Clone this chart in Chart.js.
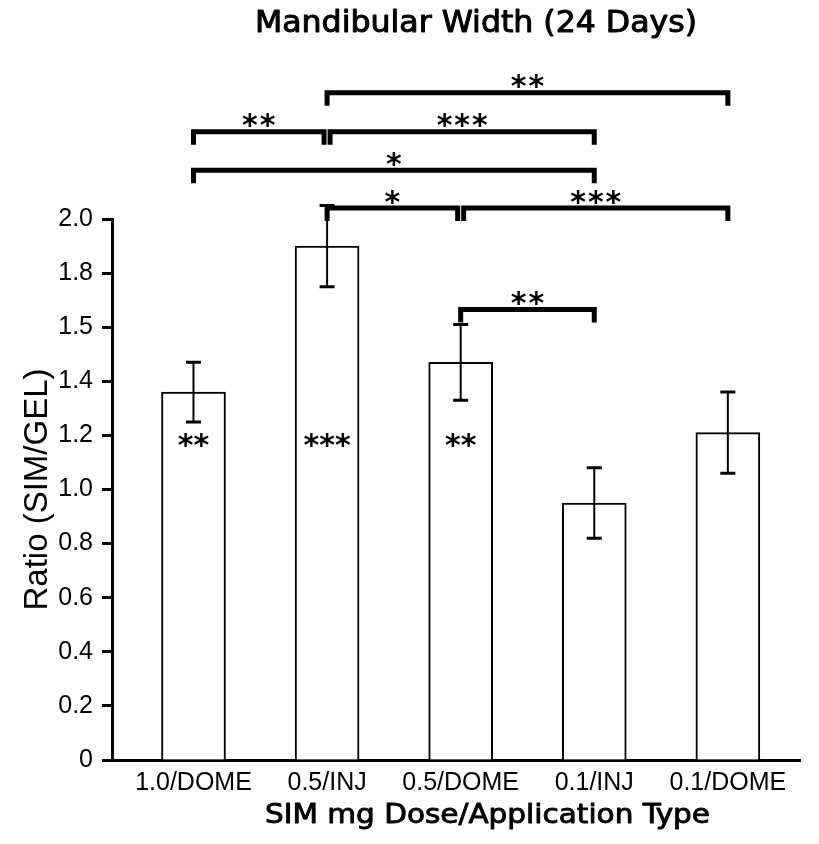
<!DOCTYPE html>
<html><head><meta charset="utf-8">
<script src="https://cdn.jsdelivr.net/npm/chart.js@4.4.1/dist/chart.umd.min.js"></script>
<style>html,body{margin:0;padding:0;background:#fff}canvas{display:block}</style>
</head><body>
<canvas id="c" width="819" height="844"></canvas>
<script>
const chartTitle = 'Mandibular Width (24 Days)';
const xAxisTitle = 'SIM mg Dose/Application Type';
const yAxisTitle = 'Ratio (SIM/GEL)';
const categories = ['1.0/DOME', '0.5/INJ', '0.5/DOME', '0.1/INJ', '0.1/DOME'];
const ratioMeans = [1.36, 1.90, 1.47, 0.95, 1.21];
const ratioErrors = [0.11, 0.15, 0.14, 0.13, 0.15];
const barStars = ['**', '***', '**', '', ''];
const yTickValues = [0, 0.2, 0.4, 0.6, 0.8, 1.0, 1.2, 1.4, 1.6, 1.8, 2.0];
const yTickLabels = ['0', '0.2', '0.4', '0.6', '0.8', '1.0', '1.2', '1.4', '1.5', '1.8', '2.0'];
// significance brackets: from / to category index, level (ratio units), label
const bracketFrom  = [1, 0, 1, 0, 1, 2, 2];
const bracketTo    = [4, 1, 3, 3, 2, 4, 3];
const bracketLevel = [2.467, 2.323, 2.323, 2.180, 2.041, 2.041, 1.665];
const bracketLabel = ['**', '**', '***', '*', '*', '***', '**'];
const barStarLevel = 1.18;

const SANS = '"Liberation Sans", Arial, sans-serif';
const NARROW = '"Liberation Sans Narrow", "DejaVu Sans Condensed", "Liberation Sans", sans-serif';
const STARFONT = 'bold 30px "DejaVu Sans", sans-serif';

function drawStretched(ctx, text, font, cx, baseline, targetW, weightStroke) {
  ctx.save();
  ctx.font = font; ctx.textAlign = 'center'; ctx.textBaseline = 'alphabetic';
  ctx.fillStyle = '#000'; ctx.strokeStyle = '#000';
  const w = ctx.measureText(text).width;
  ctx.translate(cx, baseline); ctx.scale(targetW / w, 1);
  ctx.fillText(text, 0, 0);
  ctx.lineWidth = weightStroke; ctx.lineJoin = 'round';
  ctx.strokeText(text, 0, 0);
  ctx.restore();
}

const annot = {
  id: 'annot',
  afterDatasetsDraw(chart) {
    const ctx = chart.ctx, x = chart.scales.x, y = chart.scales.y;
    ctx.save();
    ctx.strokeStyle = '#000'; ctx.fillStyle = '#000';
    // error bars
    ratioMeans.forEach((m, i) => {
      const px = x.getPixelForValue(i);
      const top = y.getPixelForValue(m + ratioErrors[i]);
      const bot = y.getPixelForValue(m - ratioErrors[i]);
      ctx.lineWidth = 2;
      ctx.beginPath(); ctx.moveTo(px, top); ctx.lineTo(px, bot); ctx.stroke();
      ctx.lineWidth = 3;
      ctx.beginPath();
      ctx.moveTo(px - 7.5, top); ctx.lineTo(px + 7.5, top);
      ctx.moveTo(px - 7.5, bot); ctx.lineTo(px + 7.5, bot);
      ctx.stroke();
    });
    // stars inside bars
    ctx.font = STARFONT; ctx.textAlign = 'center'; ctx.textBaseline = 'middle';
    ctx.letterSpacing = '0px';
    barStars.forEach((s, i) => {
      if (!s) return;
      ctx.fillText(s, x.getPixelForValue(i), y.getPixelForValue(barStarLevel) + 6);
    });
    // brackets
    ctx.lineWidth = 5; ctx.lineJoin = 'miter'; ctx.lineCap = 'butt';
    ctx.letterSpacing = '2px';
    bracketFrom.forEach((f, k) => {
      const t = bracketTo[k], lv = bracketLevel[k];
      let sh1 = 0, sh2 = 0;
      bracketFrom.forEach((f2, j) => {
        if (j === k || bracketLevel[j] !== lv) return;
        if (bracketTo[j] === f) sh1 = 3;
        if (f2 === t) sh2 = -3;
      });
      const x1 = x.getPixelForValue(f) + sh1, x2 = x.getPixelForValue(t) + sh2;
      const py = y.getPixelForValue(lv);
      ctx.beginPath();
      ctx.moveTo(x1, py + 13); ctx.lineTo(x1, py); ctx.lineTo(x2, py); ctx.lineTo(x2, py + 13);
      ctx.stroke();
      ctx.fillText(bracketLabel[k], (x1 + x2) / 2 + 1, py - 4);
    });
    ctx.restore();
  },
  afterDraw(chart) {
    const ctx = chart.ctx;
    drawStretched(ctx, chartTitle, '30px ' + NARROW, 476, 32, 442, 0.9);
    drawStretched(ctx, xAxisTitle, '26px ' + NARROW, 487.5, 823, 445, 0.8);
  }
};

new Chart(document.getElementById('c'), {
  type: 'bar',
  data: {
    datasets: [{
      data: categories.map((c, i) => ({ x: i, y: ratioMeans[i] })),
      backgroundColor: '#fff', borderColor: '#000', borderWidth: 2, barThickness: 64
    }]
  },
  options: {
    responsive: false, animation: false,
    layout: { padding: { top: 219, right: 19, left: 0, bottom: 0 } },
    plugins: { legend: { display: false }, tooltip: { enabled: false }, title: { display: false } },
    scales: {
      x: {
        type: 'linear', min: -0.61, max: 4.54, offset: false,
        afterBuildTicks: s => { s.ticks = categories.map((c, i) => ({ value: i })); },
        ticks: { callback: v => categories[v], font: { family: SANS, size: 25 }, color: '#000', padding: 8, maxRotation: 0, autoSkip: false },
        grid: { display: false, drawTicks: false, offset: false },
        border: { display: true, color: '#000', width: 3 },
        afterFit: s => { s.height = 84; }
      },
      y: {
        min: 0, max: 2.0,
        afterBuildTicks: s => { s.ticks = yTickValues.map(v => ({ value: v })); },
        ticks: { callback: (v, i) => yTickLabels[i], font: { family: SANS, size: 25 }, color: '#000', padding: 9 },
        grid: { drawOnChartArea: false, drawTicks: true, tickLength: 10, tickWidth: 3, tickColor: '#000' },
        border: { display: true, color: '#000', width: 3 },
        title: { display: true, text: yAxisTitle, font: { family: SANS, size: 33 }, color: '#000', padding: { top: 18, bottom: 0 } },
        afterFit: s => { s.width = 112; }
      }
    }
  },
  plugins: [annot]
});
</script>
</body></html>
